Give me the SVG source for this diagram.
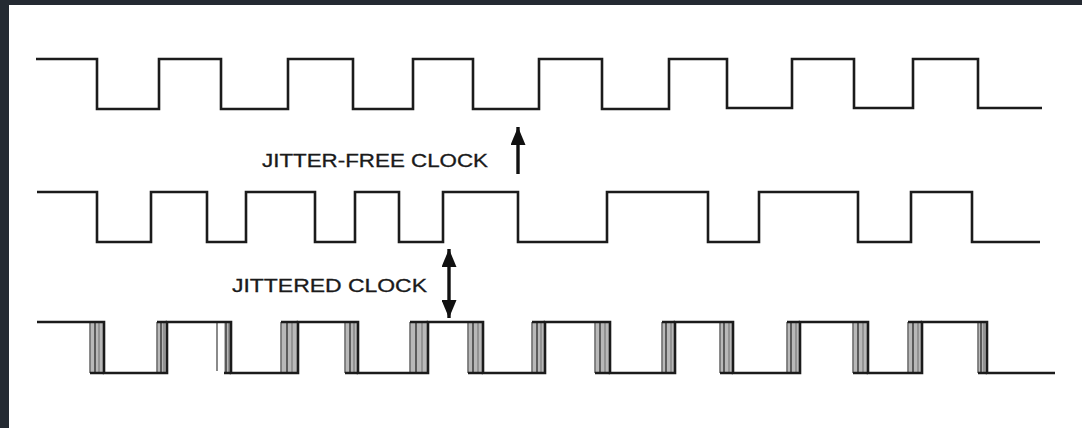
<svg xmlns="http://www.w3.org/2000/svg" width="1082" height="428" viewBox="0 0 1082 428">
  <defs>
    <style>
      .wave { fill: none; stroke: #1b1b1b; stroke-width: 2.6; stroke-linejoin: miter; stroke-linecap: butt; }
      .jband { fill: #b8b8b8; stroke: none; }
      .j1 { stroke: #6e6e6e; stroke-width: 1.6; fill: none; }
      .j2 { stroke: #444; stroke-width: 1.6; fill: none; }
      .j3 { stroke: #8a8a8a; stroke-width: 1.6; fill: none; }
      .conn { stroke: #111; stroke-width: 3.4; fill: none; }
      .lbl { font-family: "Liberation Sans", Arial, sans-serif; font-size: 18px; fill: #1a1a1a; stroke: #1a1a1a; stroke-width: 0.3; }
    </style>
    <marker id="ah" viewBox="0 0 18 15" refX="18" refY="7.5" markerWidth="18" markerHeight="15" markerUnits="userSpaceOnUse" orient="auto-start-reverse">
      <path d="M0,0 L18,7.5 L0,15 Z" fill="#111"/>
    </marker>
  </defs>
  <rect x="0" y="0" width="1082" height="428" fill="#ffffff"/>
  <rect x="0" y="0" width="1082" height="5" fill="#242a32"/>
  <rect x="0" y="0" width="9" height="428" fill="#242a32"/>

  <g id="jitter-free-clock-top">
    <path class="wave" d="M36,59 H97 V109 H159 V59 H221 V109 H288 V59 H353 V109 H413 V59 H473 V109 H539 V59 H602 V109 H669 V59 H727 V108 H792 V59 H854 V108 H913 V59 H978 V108 H1042"/>
  </g>

  <g id="jitter-free-clock-middle">
    <path class="wave" d="M37,192 H97 V242 H151 V192 H207 V242 H246 V192 H315 V242 H355 V192 H399 V242 H443 V192 H518 V242 H607 V192 H708 V242 H759 V192 H858 V242 H911 V192 H972 V242 H1040"/>
  </g>

  <g id="jittered-clock">
    <g class="bands">
      <rect class="jband" x="90" y="322" width="14" height="51"/>
      <rect class="jband" x="157" y="322" width="10" height="51"/>
      <rect class="jband" x="224" y="322" width="7" height="51"/>
      <rect class="jband" x="281" y="322" width="17" height="51"/>
      <rect class="jband" x="345" y="322" width="13" height="51"/>
      <rect class="jband" x="410" y="322" width="18" height="51"/>
      <rect class="jband" x="468" y="322" width="15" height="51"/>
      <rect class="jband" x="532" y="322" width="13" height="51"/>
      <rect class="jband" x="595" y="322" width="15" height="51"/>
      <rect class="jband" x="662" y="322" width="13" height="51"/>
      <rect class="jband" x="720" y="322" width="13" height="51"/>
      <rect class="jband" x="787" y="322" width="13" height="51"/>
      <rect class="jband" x="853" y="322" width="15" height="51"/>
      <rect class="jband" x="908" y="322" width="14" height="51"/>
      <rect class="jband" x="978" y="322" width="9" height="51"/>
    </g>
    <path class="j1" d="M90,322 V373 M157,322 V373 M217,322 V371 M281,322 V373 M345,322 V373 M410,322 V373 M468,322 V373 M532,322 V373 M595,322 V373 M662,322 V373 M720,322 V373 M787,322 V373 M853,322 V373 M908,322 V373 M978,322 V373"/>
    <path class="j2" d="M95,322 V373 M161,322 V373 M226,322 V373 M287,322 V373 M350,322 V373 M416,322 V373 M473,322 V373 M537,322 V373 M600,322 V373 M666,322 V373 M724,322 V373 M791,322 V373 M858,322 V373 M913,322 V373 M981,322 V373"/>
    <path class="j3" d="M99,322 V373 M164,322 V373 M229,322 V373 M292,322 V373 M354,322 V373 M422,322 V373 M478,322 V373 M541,322 V373 M605,322 V373 M671,322 V373 M729,322 V373 M796,322 V373 M863,322 V373 M918,322 V373 M984,322 V373"/>
    <path class="wave" d="M90,373 H104 M157,322 H167 M224,373 H231 M281,322 H298 M345,373 H358 M410,322 H428 M468,373 H483 M532,322 H545 M595,373 H610 M662,322 H675 M720,373 H733 M787,322 H800 M853,373 H868 M908,322 H922 M978,373 H987"/>
    <path class="wave" d="M37,322 H104 V373 H167 V322 H231 V373 H298 V322 H358 V373 H428 V322 H483 V373 H545 V322 H610 V373 H675 V322 H733 V373 H800 V322 H868 V373 H922 V322 H987 V373 H1055"/>
  </g>

  <g id="connectors">
    <line class="conn" x1="518" y1="174" x2="518" y2="127" marker-end="url(#ah)"/>
    <line class="conn" x1="449" y1="249" x2="449" y2="318" marker-start="url(#ah)" marker-end="url(#ah)"/>
  </g>

  <g id="label-jitter-free">
    <text class="lbl" x="262" y="167" textLength="226" lengthAdjust="spacingAndGlyphs">JITTER-FREE CLOCK</text>
  </g>
  <g id="label-jittered">
    <text class="lbl" x="232" y="292" textLength="195" lengthAdjust="spacingAndGlyphs">JITTERED CLOCK</text>
  </g>
</svg>
